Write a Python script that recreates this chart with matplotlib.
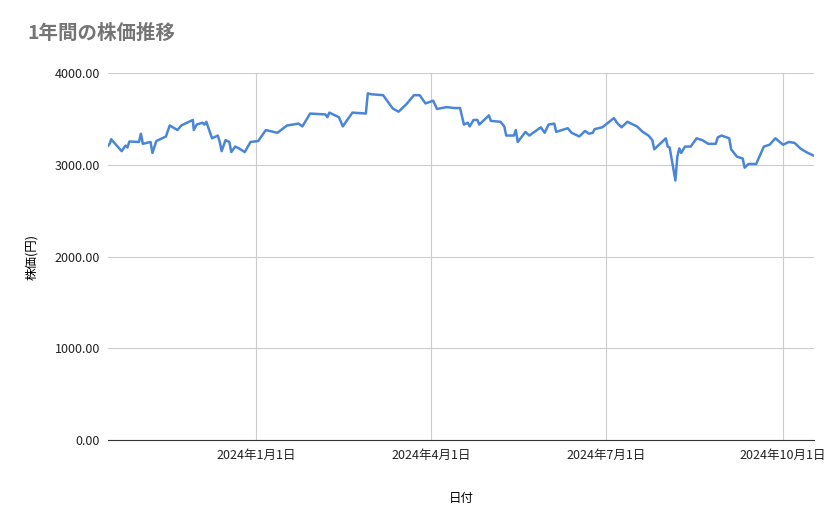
import matplotlib.pyplot as plt
import matplotlib.dates as mdates
import pandas as pd

plt.rcParams['font.family'] = ['Noto Sans CJK JP', 'DejaVu Sans']

start_date = "2023-10-16"
# days after start_date
days = [0, 1, 1.5, 7, 9, 10, 11, 16, 17, 18, 22, 23, 25, 30, 32, 36, 38, 44, 44.5, 46,
        49, 50, 51, 54, 57, 58, 59, 61, 63, 64, 66, 68, 71, 74, 78, 82, 88, 93, 99, 101,
        105, 113, 114, 115, 120, 122, 127, 134, 135, 137, 143, 144, 148, 151, 155, 159, 162, 165, 169, 171,
        176, 180, 183, 185, 187, 188, 190, 192, 193, 198, 199, 204, 206, 207, 211, 212, 213, 217, 219, 225,
        227, 229, 232, 233, 239, 241, 245, 248, 250, 252, 253, 257, 260, 263, 265, 267, 270, 275, 278, 281,
        283, 284, 290, 291, 292, 295, 296, 297, 298, 300, 303, 306, 309, 312, 316, 317, 319, 323, 324, 327,
        330, 331, 333, 337, 341, 344, 347, 351, 354, 357, 360, 363, 367]
prices = [3210, 3240, 3280, 3150, 3210, 3190, 3255, 3250, 3340, 3230, 3250, 3130, 3260, 3310, 3430, 3380, 3430, 3490, 3380, 3440,
          3460, 3440, 3470, 3290, 3320, 3250, 3150, 3270, 3250, 3140, 3200, 3180, 3140, 3250, 3260, 3380, 3350, 3430, 3450, 3420,
          3560, 3550, 3520, 3570, 3520, 3420, 3570, 3560, 3780, 3770, 3760, 3730, 3615, 3580, 3660, 3760, 3760, 3670, 3700, 3610,
          3630, 3620, 3620, 3440, 3460, 3420, 3490, 3490, 3440, 3540, 3480, 3470, 3420, 3320, 3320, 3380, 3250, 3360, 3320, 3410,
          3350, 3440, 3450, 3360, 3400, 3350, 3310, 3370, 3340, 3350, 3390, 3410, 3460, 3510, 3450, 3410, 3470, 3420, 3360, 3320,
          3270, 3170, 3290, 3200, 3190, 2830, 3090, 3180, 3130, 3200, 3200, 3290, 3270, 3230, 3230, 3300, 3320, 3290, 3170, 3090,
          3070, 2970, 3010, 3010, 3200, 3220, 3290, 3220, 3250, 3240, 3180, 3140, 3100]

dates = pd.to_datetime(start_date) + pd.to_timedelta(days, unit="D")

fig = plt.figure(figsize=(8.39, 5.19), dpi=100)
ax = fig.add_axes([0.129, 0.152, 0.841, 0.707])
ax.plot(dates, prices, color="#4a86d8", linewidth=1.8)

ax.set_ylim(0, 4000)
ax.set_yticks([0, 1000, 2000, 3000, 4000])
ax.yaxis.set_major_formatter(plt.FuncFormatter(lambda v, p: f"{v:.2f}"))
ax.set_xlim(dates[0], dates[-1])
ticks = pd.to_datetime(["2024-01-01", "2024-04-01", "2024-07-01", "2024-10-01"])
ax.set_xticks(ticks)
ax.set_xticklabels([f"{d.year}年{d.month}月{d.day}日" for d in ticks])

ax.grid(True, color="#cccccc", linewidth=0.8)
ax.set_axisbelow(True)
for s in ["top", "right", "left"]:
    ax.spines[s].set_visible(False)
ax.spines["bottom"].set_color("#333333")
ax.tick_params(length=0, labelsize=9, colors="#222222", pad=6)

ax.set_xlabel("日付", fontsize=9, labelpad=22)
ax.set_ylabel("株価(円)", fontsize=9, labelpad=12)
fig.text(0.033, 0.925, "1年間の株価推移", fontsize=14, color="#757575", fontweight="bold")

fig.savefig("out.png", dpi=100)
